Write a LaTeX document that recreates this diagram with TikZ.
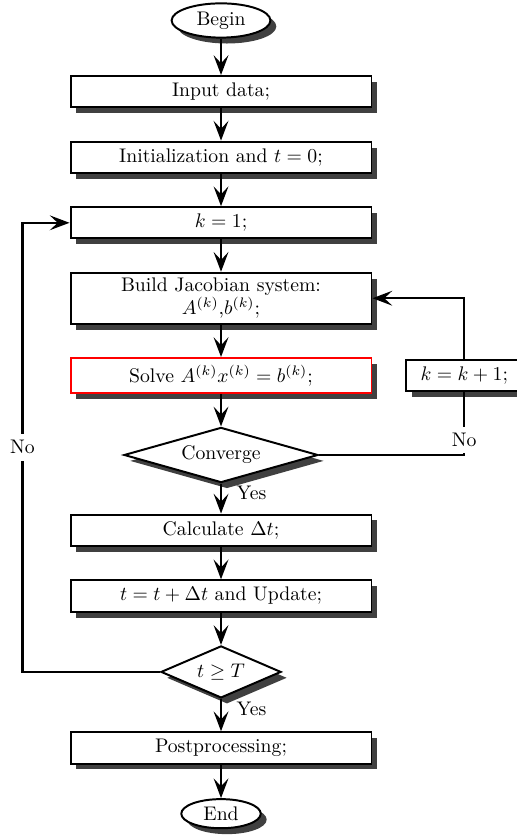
\documentclass[tikz,border=0pt]{standalone}
\usepackage{amsmath,amssymb}
\usetikzlibrary{positioning, arrows.meta, shapes.geometric, shadows}

\begin{document}
\begin{tikzpicture}[node distance=0.577cm and 0.58cm,
            shade/.style={drop shadow={shadow xshift=3pt, shadow yshift=-3pt, fill=black!75, opacity=1}},
            block/.style={draw, line width=1pt, rectangle, fill=white, minimum width=5.37cm, inner ysep=3.5pt, align=center, shade},
            terminal/.style={draw, line width=1pt, ellipse, fill=white, inner xsep=5.3pt, inner ysep=1.7pt, shade},
            decision/.style={draw, line width=1pt, diamond, fill=white, aspect=3.5, inner sep=0pt, shade},
            flow/.style={line width=1.2pt, -{Stealth[length=10pt, width=7.5pt, inset=4pt]}}]
    \useasboundingbox (-112.2pt,10.4pt) rectangle (150.2pt,-414.5pt);

    % Nodes
    \node[terminal] (begin) {Begin};
    \node[block, below=0.65cm of begin] (input) {Input data;};
    \node[block, below=of input] (init) {Initialization and $t=0$;};
    \node[block, below=of init] (k1) {$k=1$;};
    \node[block, inner ysep=2.5pt, below=of k1] (build) {Build Jacobian system:\\ $A^{(k)}$,$b^{(k)}$;};
    \node[block, draw=red, below=of build] (solve) {Solve $A^{(k)}x^{(k)}=b^{(k)}$;};
    \node[block, right=of solve, minimum width=2.08cm] (kk) {$k=k+1$;};
    \node[decision, below=of solve, minimum width=98.5pt, minimum height=28pt] (conv) {Converge};
    \node[block, below=0.535cm of conv] (calc) {Calculate $\Delta t$;};
    \node[block, below=of calc] (update) {$t=t+\Delta t$ and Update;};
    \node[decision, below=of update, minimum width=61pt, minimum height=26.4pt] (tT) {$t\geq T$};
    \node[block, below=of tT] (post) {Postprocessing;};
    \node[terminal, below=0.6cm of post] (end) {End};
    \coordinate[left=23.9pt of k1.west] (back);

    % Edges
    \draw[flow] (begin) -- (input);
    \draw[flow] (input) -- (init);
    \draw[flow] (init) -- (k1);
    \draw[flow] (k1) -- (build);
    \draw[flow] (build) -- (solve);
    \draw[flow] (solve) -- (conv);
    \draw[flow] (conv) -- node[pos=0.3, right=4pt] {Yes} (calc);
    \draw[flow] (calc) -- (update);
    \draw[flow] (update) -- (tT);
    \draw[flow] (tT) -- node[pos=0.3, right=4pt] {Yes} (post);
    \draw[flow] (post) -- (end);
    \draw[line width=1.2pt] (conv.east) -| node[pos=0.62, fill=white] {No} (kk.south);
    \draw[flow] (kk.north) |- (build.east);
    \draw[flow] (tT.west) -| node[pos=0.75, fill=white] {No} (back) -- (k1.west);
\end{tikzpicture}
\end{document}
